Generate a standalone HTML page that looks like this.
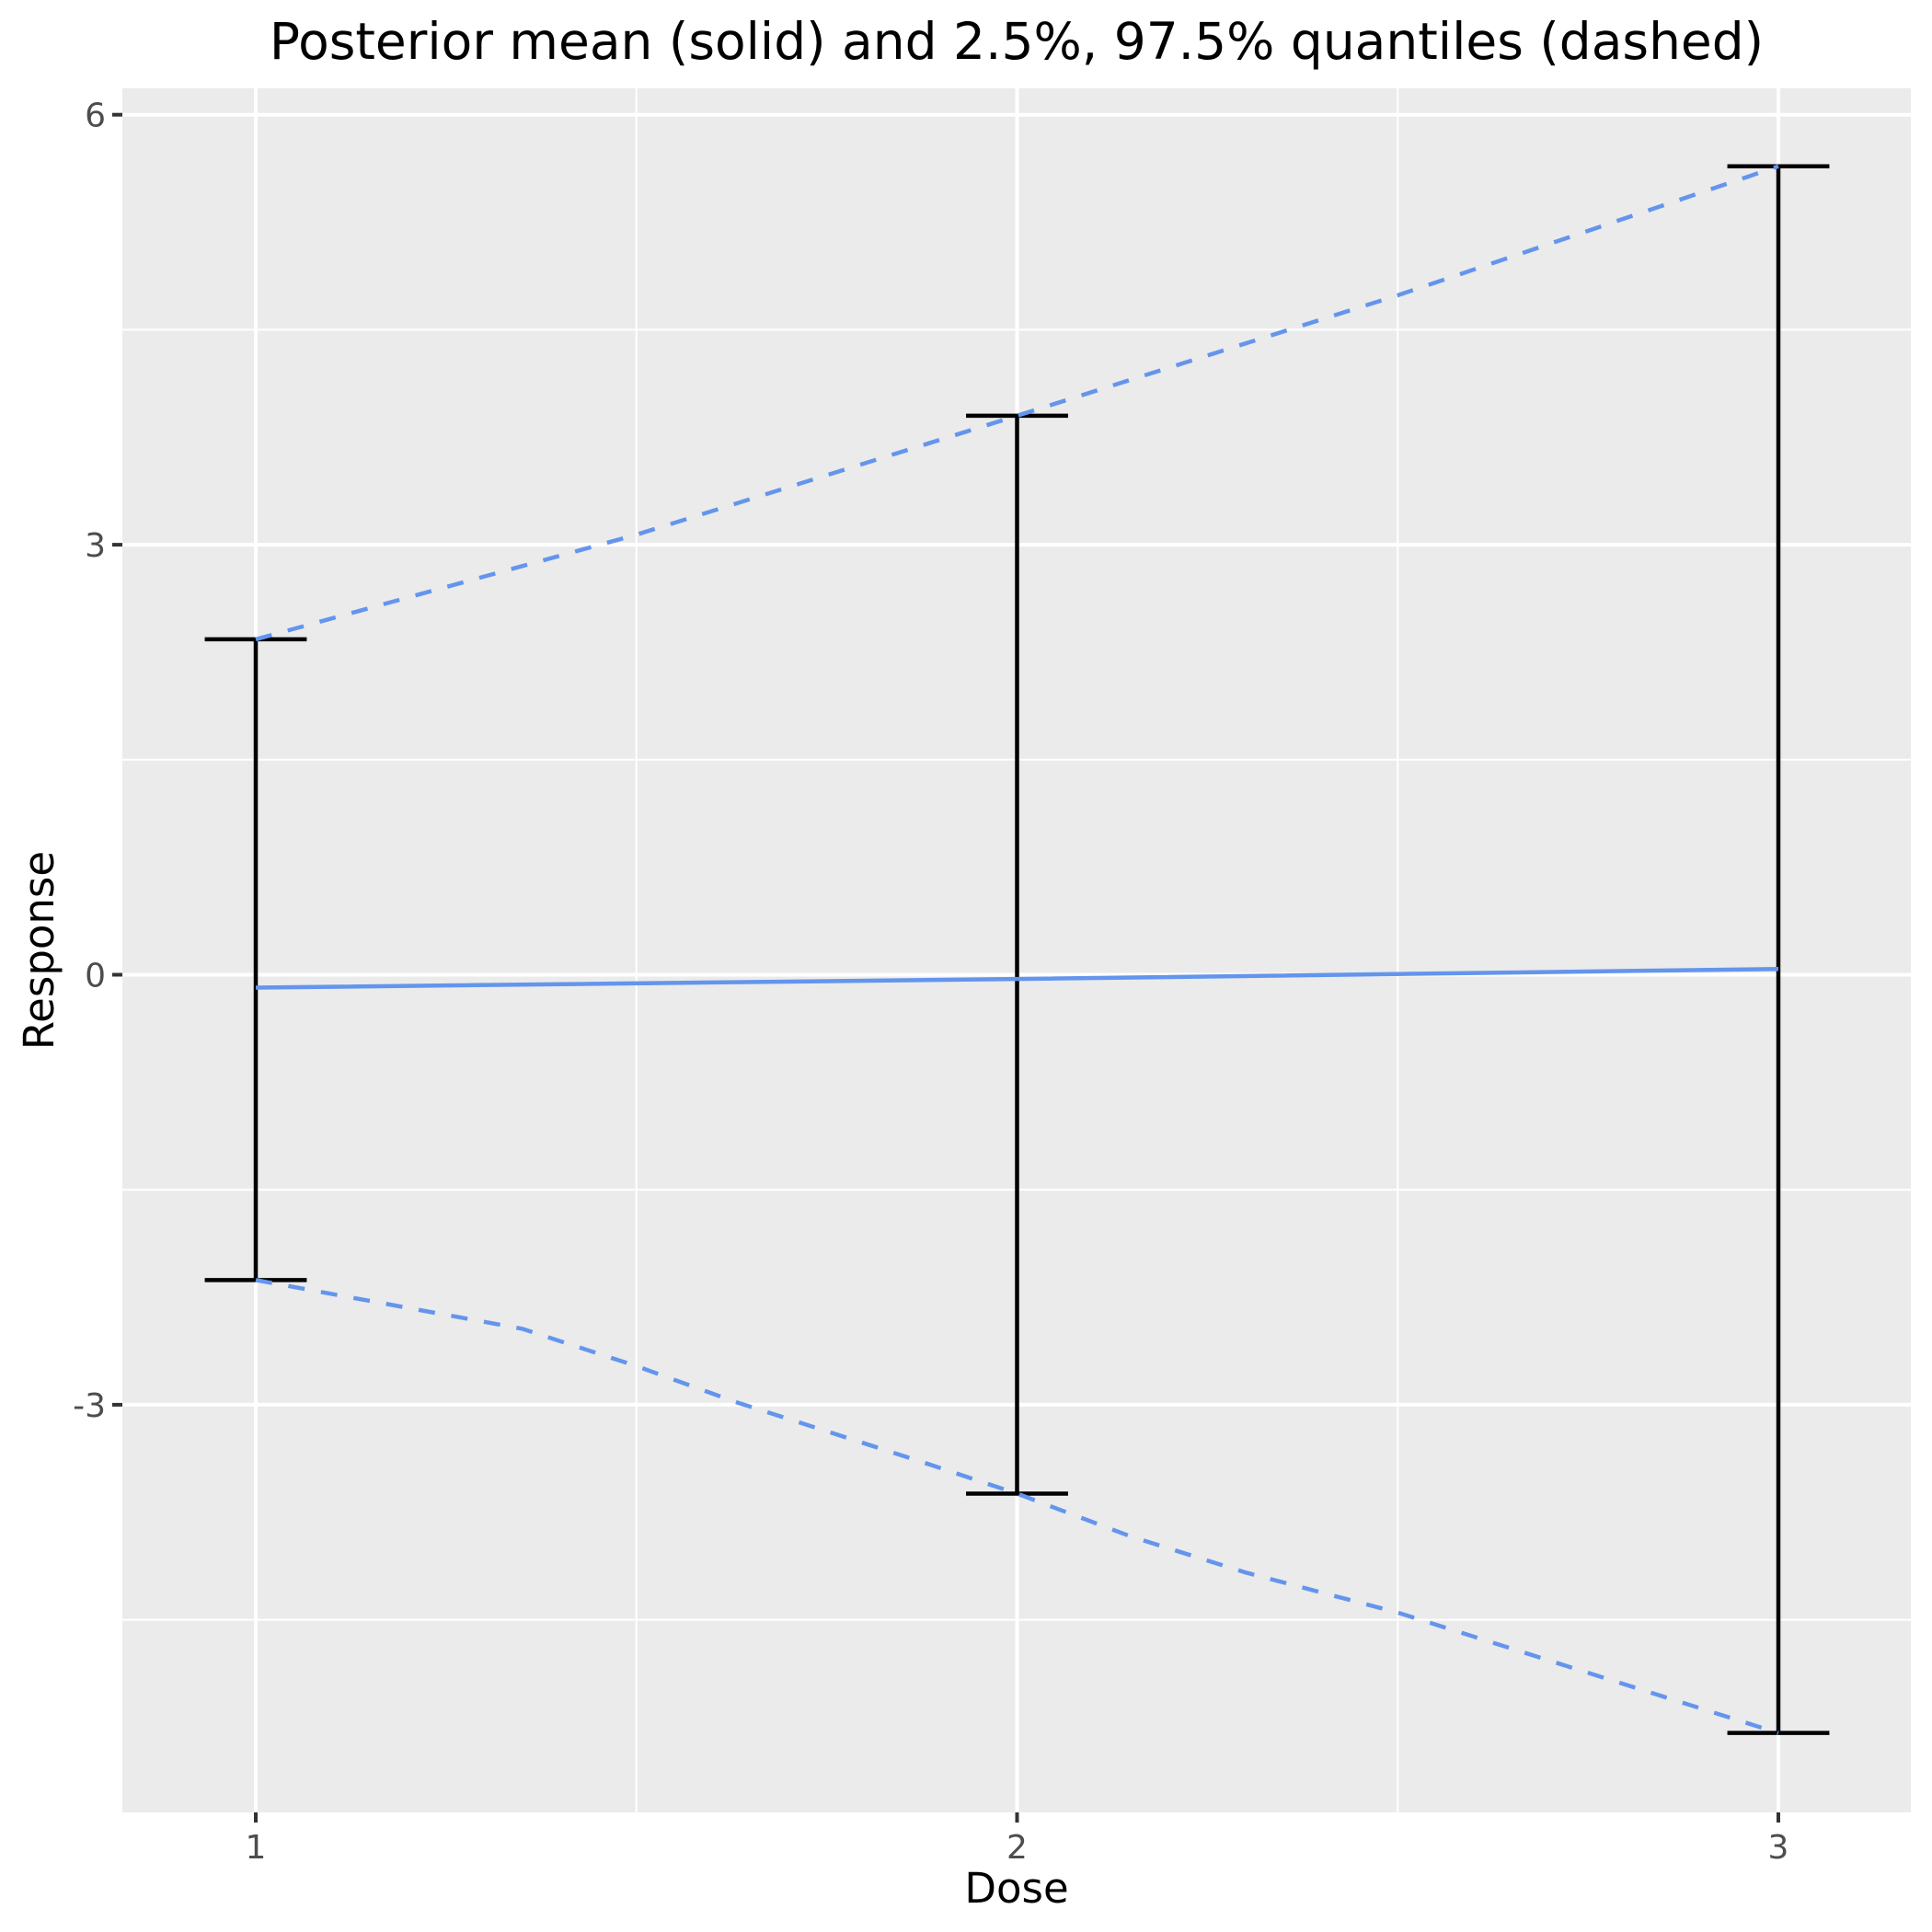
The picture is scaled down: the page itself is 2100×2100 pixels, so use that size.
<!DOCTYPE html>
<html><head><meta charset="utf-8"><style>
html,body{margin:0;padding:0;background:#fff;}
svg{display:block;font-family:"DejaVu Sans","Liberation Sans",sans-serif;}
</style></head><body>
<svg id="chart" width="2100" height="2100" viewBox="0 0 2100 2100">
<text x="1105" y="64" font-size="55" text-anchor="middle" fill="#000">Posterior mean (solid) and 2.5%, 97.5% quantiles (dashed)</text>
<rect x="133" y="96" width="1944" height="1874" fill="#ebebeb"/>
<g id="grid"></g><g id="marks"></g><g id="axes"></g>
<text x="1105" y="2068" font-size="45" text-anchor="middle" fill="#000">Dose</text>
<text transform="translate(58,1033) rotate(-90)" font-size="45" text-anchor="middle" fill="#000">Response</text>
</svg>
<script>
const doses = [1, 2, 3];
const meanVals = [-0.09, -0.03, 0.04];
const lowerVals = [-2.13, -3.62, -5.29];
const upperVals = [2.34, 3.9, 5.64];
const upperCurveX = [1, 1.5, 2, 2.5, 3];
const upperCurveY = [2.34, 3.07, 3.9, 4.74, 5.64];
const lowerCurveX = [1, 1.35, 1.5, 1.63, 1.87, 2, 2.15, 2.3, 2.5, 3];
const lowerCurveY = [-2.13, -2.47, -2.73, -2.98, -3.39, -3.62, -3.92, -4.17, -4.45, -5.29];
const yTicks = [-3, 0, 3, 6];
const yMinor = [-4.5, -1.5, 1.5, 4.5];
const xTicks = [1, 2, 3];
const xMinor = [1.5, 2.5];

const NS = "http://www.w3.org/2000/svg";
const X0 = 133, X1 = 2077, Y0 = 96, Y1 = 1970;
const xs = d => 278 + (d - 1) * 827.5;
const ys = v => 1059.5 - v * 155.8;
function mk(tag, attrs, parent) {
  const e = document.createElementNS(NS, tag);
  for (const k in attrs) e.setAttribute(k, attrs[k]);
  parent.appendChild(e);
  return e;
}
const grid = document.getElementById('grid'), marks = document.getElementById('marks'), axes = document.getElementById('axes');
yMinor.forEach(v => {
  const l = mk('line', {x1: X0, x2: X1, y1: ys(v), y2: ys(v), stroke: '#fff', 'stroke-width': 2}, grid);
  
  
});
xMinor.forEach(d => {
  const l = mk('line', {x1: xs(d), x2: xs(d), y1: Y0, y2: Y1, stroke: '#fff', 'stroke-width': 2}, grid);
  
  
});
yTicks.forEach(v => {
  const l = mk('line', {x1: X0, x2: X1, y1: ys(v), y2: ys(v), stroke: '#fff', 'stroke-width': 4}, grid);
  
  
  const t = mk('line', {x1: X0 - 11, x2: X0, y1: ys(v), y2: ys(v), stroke: '#333', 'stroke-width': 4}, axes);
  
  
  const tx = mk('text', {x: X0 - 18, y: ys(v) + 13, 'font-size': 36, 'text-anchor': 'end', fill: '#4d4d4d'}, axes);
  tx.textContent = String(v);
  
  
});
xTicks.forEach(d => {
  const l = mk('line', {x1: xs(d), x2: xs(d), y1: Y0, y2: Y1, stroke: '#fff', 'stroke-width': 4}, grid);
  
  
  const t = mk('line', {x1: xs(d), x2: xs(d), y1: Y1, y2: Y1 + 11, stroke: '#333', 'stroke-width': 4}, axes);
  
  
  const tx = mk('text', {x: xs(d), y: Y1 + 50, 'font-size': 36, 'text-anchor': 'middle', fill: '#4d4d4d'}, axes);
  tx.textContent = String(d);
  
  
});
const capHalf = 0.067;
doses.forEach((d, i) => {
  const g = mk('g', {stroke: '#000', 'stroke-width': 4.5, fill: 'none'}, marks);
  
  
  mk('line', {x1: xs(d), x2: xs(d), y1: ys(upperVals[i]), y2: ys(lowerVals[i])}, g);
  mk('line', {x1: xs(d - capHalf), x2: xs(d + capHalf), y1: ys(upperVals[i]), y2: ys(upperVals[i])}, g);
  mk('line', {x1: xs(d - capHalf), x2: xs(d + capHalf), y1: ys(lowerVals[i]), y2: ys(lowerVals[i])}, g);
});
function pathOf(xa, ya) { return xa.map((x, i) => (i ? 'L' : 'M') + xs(x) + ',' + ys(ya[i])).join(' '); }
const mean = mk('path', {d: pathOf(doses, meanVals), stroke: '#6495ed', 'stroke-width': 4.5, fill: 'none'}, marks);


const up = mk('path', {d: pathOf(upperCurveX, upperCurveY), stroke: '#6495ed', 'stroke-width': 4.5, fill: 'none', 'stroke-dasharray': '18 18'}, marks);


const lo = mk('path', {d: pathOf(lowerCurveX, lowerCurveY), stroke: '#6495ed', 'stroke-width': 4.5, fill: 'none', 'stroke-dasharray': '18 18'}, marks);


</script>
</body></html>
